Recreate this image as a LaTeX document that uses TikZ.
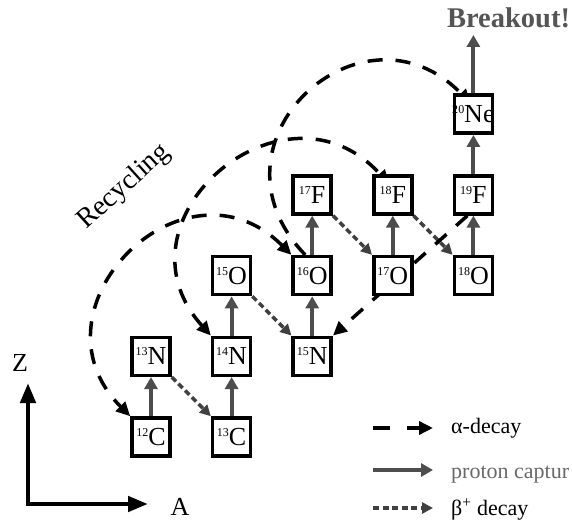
\documentclass[tikz,border=0pt]{standalone}
\usepackage{fontspec}
\setmainfont{Liberation Serif}
\usetikzlibrary{arrows.meta,calc}
\pgfdeclarelayer{bg}
\pgfsetlayers{bg,main}
\definecolor{pgray}{RGB}{77,77,77}
\definecolor{bgray}{RGB}{64,64,64}
\definecolor{lgray}{RGB}{105,105,105}
\definecolor{kgray}{RGB}{85,85,85}
% isotope label: small mass number raised to cap height, then the element
\newcommand{\iso}[2]{\makebox[0pt]{\raisebox{9pt}{\fontsize{12}{12}\selectfont #1}#2}}

\begin{document}
\begin{tikzpicture}[x=1pt,y=1pt,
  nuc/.style={draw=black, line width=3.5pt, fill=white, minimum size=38pt,
              inner sep=0pt, font=\fontsize{26}{26}\selectfont},
  pcap/.style={draw=pgray, line width=4pt, -{Triangle[length=12pt,width=13pt]}},
  bdec/.style={draw=bgray, line width=3.5pt, dash pattern=on 6pt off 3.5pt,
               -{Triangle[length=11pt,width=11pt]}},
  adec/.style={draw=black, line width=3.5pt, dash pattern=on 15pt off 13pt},
  atip/.style={-{Triangle[length=14pt,width=13pt]}},
  atips/.style={{Triangle[length=14pt,width=13pt]}-{Triangle[length=14pt,width=13pt]}},
  lbl/.style={font=\fontsize{26}{26}\selectfont},
  leg/.style={font=\fontsize{22}{22}\selectfont, anchor=base west, inner sep=0pt}]
\useasboundingbox (0,0) rectangle (572,522);

% nuclides
\node[nuc] (c12)  at (151,85)      {\iso{12}{C}};
\node[nuc] (n13)  at (151,165.7)   {\iso{13}{N}};
\node[nuc] (c13)  at (231.6,85)    {\iso{13}{C}};
\node[nuc] (n14)  at (231.6,165.7) {\iso{14}{N}};
\node[nuc] (o15)  at (231.6,246.4) {\iso{15}{O}};
\node[nuc] (n15)  at (312.2,165.7) {\iso{15}{N}};
\node[nuc] (o16)  at (312.2,246.4) {\iso{16}{O}};
\node[nuc] (f17)  at (312.2,327.1) {\iso{17}{F}};
\node[nuc] (o17)  at (392.8,246.4) {\iso{17}{O}};
\node[nuc] (f18)  at (392.8,327.1) {\iso{18}{F}};
\node[nuc] (o18)  at (473.4,246.4) {\iso{18}{O}};
\node[nuc] (f19)  at (473.4,327.1) {\iso{19}{F}};
\node[nuc] (ne20) at (473.4,407.8) {\iso{20}{Ne}};

\node[font=\bfseries\fontsize{28.5}{28.5}\selectfont, text=kgray, anchor=base] (brk) at (508.5,494) {Breakout!};
\coordinate (brkend) at (473.4,487);
\node[font=\fontsize{28}{28}\selectfont, rotate=42] (rec) at (124,335) {Recycling};

\begin{pgfonlayer}{bg}
  % beta+ decays
  \draw[bdec] (n13.south east) -- (c13.north west);
  \draw[bdec] (o15.south east) -- (n15.north west);
  \draw[bdec] (f17.south east) -- (o17.north west);
  \draw[bdec] (f18.south east) -- (o18.north west);
  % alpha links
  \draw[adec, atips] (o16.north west) to[out=135,in=135,looseness=1.7] (c12.north west);
  \draw[adec, atips] (n14.north west) to[out=132,in=132,looseness=1.7] ($(f18.north west)+(17,-10)$);
  \draw[adec, atip] ($(o16.north)+(-7,0)$) to[out=134,in=134,looseness=1.78] ($(ne20.north west)+(18,-10)$);
  \draw[adec, atip] ($(f19.south)+(-6,0)$) -- (n15.north east);
\end{pgfonlayer}

% proton captures
\draw[pcap] (c12.north) -- (n13.south);
\draw[pcap] (c13.north) -- (n14.south);
\draw[pcap] (n14.north) -- (o15.south);
\draw[pcap] (n15.north) -- (o16.south);
\draw[pcap] (o16.north) -- (f17.south);
\draw[pcap] (o17.north) -- (f18.south);
\draw[pcap] (o18.north) -- (f19.south);
\draw[pcap] (f19.north) -- (ne20.south);
\draw[pcap] (ne20.north) -- (brkend);

% axes
\coordinate (orig) at (28,18);
\coordinate (ztip) at (28,139);
\coordinate (atipc) at (148,18);
\draw[line width=4.5pt, miter limit=4,
      {Triangle[length=20pt,width=15pt]}-{Triangle[length=20pt,width=15pt]}]
      (ztip) -- (orig) -- (atipc);
\node[lbl, anchor=base] (zlab) at (20,150) {Z};
\node[lbl, anchor=base, inner sep=0pt] (alab) at (180,7) {A};

% legend
\coordinate (la1) at (373,94);  \coordinate (la2) at (433,94);
\coordinate (lp1) at (373,52);  \coordinate (lp2) at (433,52);
\coordinate (lb1) at (373,14);  \coordinate (lb2) at (433,14);
\draw[adec, dash pattern=on 17pt off 17pt, atip] (la1) -- (la2);
\draw[pcap] (lp1) -- (lp2);
\draw[bdec] (lb1) -- (lb2);
\node[leg] (lat) at (451,89) {α-decay};
\node[leg, text=lgray] (lpt) at (451,44) {proton captur};
\node[leg] (lbt) at (451,7) {β\textsuperscript{+} decay};
\end{tikzpicture}
\end{document}
